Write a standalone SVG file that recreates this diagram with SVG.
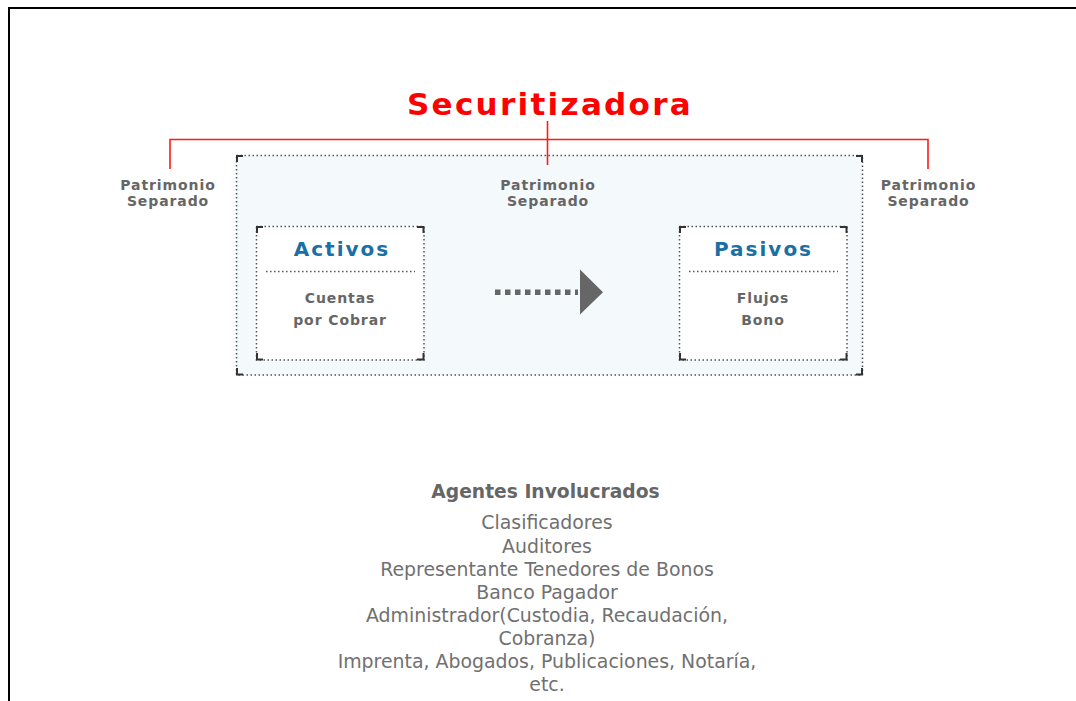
<svg xmlns="http://www.w3.org/2000/svg" width="1076" height="701" viewBox="0 0 1076 701">
<defs>
<style>
.frame{fill:none;stroke:#000;stroke-width:2}
.red{fill:none;stroke:#ff1a1a;stroke-width:1.6}
.dots{fill:none;stroke:#555;stroke-width:1.5;stroke-dasharray:1.5 2.5}
.corner{fill:none;stroke:#333;stroke-width:2}
.lbl{font-family:"DejaVu Sans",Verdana,sans-serif;font-weight:bold;font-size:14px;letter-spacing:0.9px;fill:#666;text-anchor:middle}
.hdr{font-family:"DejaVu Sans",Verdana,sans-serif;font-weight:bold;font-size:20px;letter-spacing:2px;fill:#1a70a3;text-anchor:middle}
.title{font-family:"DejaVu Sans",Verdana,sans-serif;font-weight:bold;font-size:31px;letter-spacing:2.3px;fill:#ff0000;text-anchor:middle}
.ag{font-family:"DejaVu Sans",Verdana,sans-serif;font-size:18.9px;fill:#707070;text-anchor:middle}
.agh{font-family:"DejaVu Sans",Verdana,sans-serif;font-size:18.7px;font-weight:bold;fill:#666;text-anchor:middle}
</style>
</defs>
<rect width="1076" height="701" fill="#fff"/>
<path class="frame" d="M9,701 V8 H1076"/>

<g id="securitizadora">
<text class="title" x="550" y="115">Securitizadora</text>
</g>

<g id="connectors">
<path class="red" d="M170,169 V139.5 H928 V169"/>
<path class="red" d="M547.5,121 V165"/>
</g>

<g id="patrimonio-left">
<text class="lbl" x="168" y="190">Patrimonio</text>
<text class="lbl" x="168" y="206">Separado</text>
</g>

<g id="patrimonio-right">
<text class="lbl" x="928.5" y="190">Patrimonio</text>
<text class="lbl" x="928.5" y="206">Separado</text>
</g>

<g id="patrimonio-center">
<rect x="236.5" y="155.5" width="626" height="219.5" fill="#f4f9fc"/>
<rect class="dots" x="236.5" y="155.5" width="626" height="219.5"/>
<path class="corner" d="M237,162 V156 H243 M856,156 H862 V162 M237,368 V374.5 H243 M856,374.5 H862 V368"/>
<path class="red" d="M547.5,155 V165"/>
<text class="lbl" x="548" y="190">Patrimonio</text>
<text class="lbl" x="548" y="206">Separado</text>
</g>

<g id="activos">
<rect x="256.5" y="226.5" width="167.5" height="133.5" fill="#fff"/>
<rect class="dots" x="256.5" y="226.5" width="167.5" height="133.5"/>
<path class="corner" d="M257,233 V227 H263 M417,227 H423.5 V233 M257,353 V359.5 H263 M417,359.5 H423.5 V353"/>
<text class="hdr" x="342" y="255.5">Activos</text>
<line class="dots" x1="266" y1="271.5" x2="415" y2="271.5"/>
<text class="lbl" x="340" y="303">Cuentas</text>
<text class="lbl" x="340" y="325">por Cobrar</text>
</g>

<g id="arrow">
<line x1="495" y1="292.3" x2="578" y2="292.3" stroke="#666" stroke-width="5.5" stroke-dasharray="5.5 4.5"/>
<polygon points="580,269.5 603,292.3 580,314.5" fill="#666"/>
</g>

<g id="pasivos">
<rect x="679.5" y="226.5" width="167.5" height="133.5" fill="#fff"/>
<rect class="dots" x="679.5" y="226.5" width="167.5" height="133.5"/>
<path class="corner" d="M680,233 V227 H686 M840,227 H846.5 V233 M680,353 V359.5 H686 M840,359.5 H846.5 V353"/>
<text class="hdr" x="763.5" y="255.5">Pasivos</text>
<line class="dots" x1="689" y1="271.5" x2="838" y2="271.5"/>
<text class="lbl" x="763" y="303">Flujos</text>
<text class="lbl" x="763" y="325">Bono</text>
</g>

<g id="agentes">
<text class="agh" x="545.5" y="497.5">Agentes Involucrados</text>
<text class="ag" x="547" y="529">Clasificadores</text>
<text class="ag" x="547" y="552.5">Auditores</text>
<text class="ag" x="547" y="576">Representante Tenedores de Bonos</text>
<text class="ag" x="547" y="599">Banco Pagador</text>
<text class="ag" x="547" y="622">Administrador(Custodia, Recaudación,</text>
<text class="ag" x="547" y="645">Cobranza)</text>
<text class="ag" x="547" y="668">Imprenta, Abogados, Publicaciones, Notaría,</text>
<text class="ag" x="547" y="691">etc.</text>
</g>
</svg>
